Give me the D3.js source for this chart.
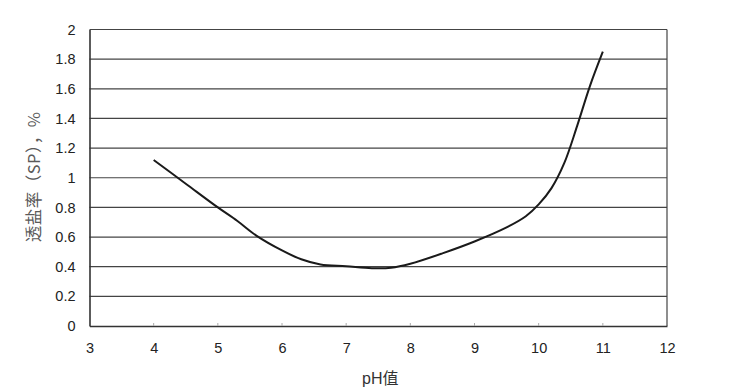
<!DOCTYPE html>
<html>
<head>
<meta charset="utf-8">
<script src="https://cdn.jsdelivr.net/npm/d3@7"></script>
<style>
  body { margin: 0; background: #fff; }
  svg { display: block; }
</style>
</head>
<body>
<div id="chart"></div>
<script>
// data
const phValues = [4, 4.5, 5, 5.3, 5.6, 6, 6.3, 6.6, 7, 7.4, 7.7, 8, 8.5, 9, 9.5, 9.8, 10, 10.2, 10.4, 10.6, 10.8, 11];
const spValues = [1.12, 0.96, 0.80, 0.71, 0.61, 0.51, 0.45, 0.415, 0.403, 0.39, 0.393, 0.42, 0.49, 0.57, 0.665, 0.74, 0.82, 0.93, 1.1, 1.35, 1.62, 1.85];
const xTicks = [3, 4, 5, 6, 7, 8, 9, 10, 11, 12];
const yTicks = [0, 0.2, 0.4, 0.6, 0.8, 1, 1.2, 1.4, 1.6, 1.8, 2];
const xTitle = "pH值";
const yTitle = "透盐率（SP），%";

const width = 750, height = 389;
const margin = { top: 29.5, right: 83, bottom: 63, left: 89.5 };

const svg = d3.select("#chart").append("svg").attr("width", width).attr("height", height);

const xScale = d3.scaleLinear().domain([3, 12]).range([margin.left, width - margin.right]);
const yScale = d3.scaleLinear().domain([0, 2]).range([height - margin.bottom, margin.top]);

// gridlines
svg.append("g")
  .selectAll("line")
  .data(yTicks.filter(d => d > 0))
  .enter()
  .append("line")
  .attr("x1", xScale(3))
  .attr("x2", xScale(12))
  .attr("y1", d => yScale(d))
  .attr("y2", d => yScale(d))
  .attr("stroke", "#444")
  .attr("stroke-width", 1.2);

// right border
svg.append("line")
  .attr("x1", xScale(12)).attr("x2", xScale(12))
  .attr("y1", yScale(0)).attr("y2", yScale(2))
  .attr("stroke", "#444").attr("stroke-width", 1.2);

// x axis
const axisx = d3.axisBottom(xScale).tickValues(xTicks).tickSize(0).tickPadding(17).tickFormat(d3.format("d"));
const gx = svg.append("g")
  .attr("transform", "translate(0," + yScale(0) + ")")
  .call(axisx);
gx.select(".domain").attr("stroke", "#333").attr("stroke-width", 1.6);
gx.selectAll("text").attr("font-family", "'Liberation Sans', Arial, sans-serif").attr("font-size", "14.5px").attr("fill", "#222");

// little inner ticks on x axis
svg.append("g")
  .selectAll("line")
  .data(xTicks.slice(1, -1))
  .enter()
  .append("line")
  .attr("x1", d => xScale(d)).attr("x2", d => xScale(d))
  .attr("y1", yScale(0)).attr("y2", yScale(0) - 3)
  .attr("stroke", "#aaa").attr("stroke-width", 1);

// y axis
const axisy = d3.axisLeft(yScale).tickValues(yTicks).tickSize(0).tickPadding(14).tickFormat(d => d3.format("")(+d.toFixed(1)));
const gy = svg.append("g")
  .attr("transform", "translate(" + margin.left + ",0)")
  .call(axisy);
gy.select(".domain").attr("stroke", "#333").attr("stroke-width", 1.6);
gy.selectAll("text").attr("font-family", "'Liberation Sans', Arial, sans-serif").attr("font-size", "14.5px").attr("fill", "#222");

// axis titles
svg.append("text")
  .attr("x", (xScale(3) + xScale(12)) / 2 + 2)
  .attr("y", 384)
  .attr("text-anchor", "middle")
  .attr("font-family", "'Liberation Sans', 'Noto Sans CJK SC', sans-serif")
  .attr("font-size", "16px")
  .attr("fill", "#333")
  .text(xTitle);

svg.append("text")
  .attr("transform", "translate(40,177) rotate(-90)")
  .attr("text-anchor", "middle")
  .attr("font-family", "'Noto Sans CJK SC', sans-serif")
  .attr("font-size", "16.5px")
  .attr("letter-spacing", "0.5px")
  .attr("fill", "#5a5a5a")
  .text(yTitle);

// curve
const dataset = phValues.map((d, i) => [d, spValues[i]]);
svg.append("path")
  .datum(dataset)
  .attr("fill", "none")
  .attr("stroke", "#1a1a1a")
  .attr("stroke-width", 2)
  .attr("d", d3.line()
    .x(d => xScale(d[0]))
    .y(d => yScale(d[1]))
    .curve(d3.curveCatmullRom.alpha(0.5)));
</script>
</body>
</html>
